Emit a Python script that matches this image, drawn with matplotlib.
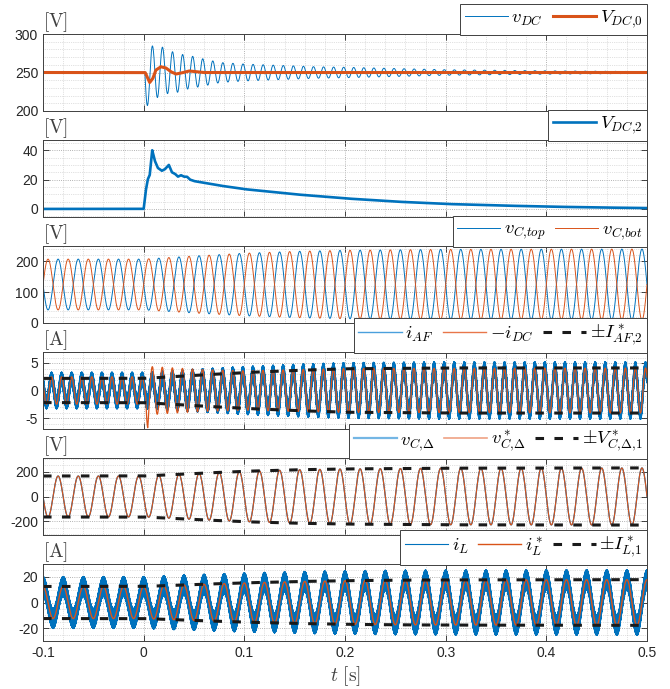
import numpy as np
import matplotlib
matplotlib.use("Agg")
import matplotlib.pyplot as plt
from matplotlib.lines import Line2D
from matplotlib.ticker import MultipleLocator

plt.rcParams["font.family"] = ["Liberation Sans", "DejaVu Sans"]
plt.rcParams["mathtext.fontset"] = "cm"
plt.rcParams["axes.unicode_minus"] = False

blue = "#0072BD"
orange = "#D95319"
dark = "#262626"

# time base and grid frequencies
t = np.linspace(-0.1, 0.5, 60001)
f_line = 50.0
f_dc = 100.0
f_sw = 4700.0

# Panel 1: DC-link voltage
vdc0_t = [-0.1, 0.0015, 0.004, 0.006, 0.009, 0.012, 0.017, 0.022, 0.027, 0.032, 0.038, 0.045, 0.052, 0.06, 0.5]
vdc0_v = [250, 250, 243, 237, 242, 253, 257.5, 256, 251, 248, 249.5, 252, 251, 250, 250]
vdc_osc_t = [0.0012, 0.01, 0.02, 0.04, 0.076, 0.1, 0.17, 0.2, 0.3, 0.4, 0.5]
vdc_osc_a = [43, 36, 30, 23, 13, 11, 7.5, 6.8, 3.6, 2.2, 1.2]

# Panel 2: 2nd harmonic of DC-link voltage
vdc2_t = [-0.1, 0.0, 0.002, 0.004, 0.006, 0.0085, 0.011, 0.014, 0.018, 0.021, 0.025, 0.028,
          0.031, 0.034, 0.037, 0.040, 0.043, 0.046, 0.05, 0.075, 0.1, 0.15, 0.2, 0.25,
          0.3, 0.35, 0.4, 0.45, 0.5]
vdc2_v = [0, 0, 12, 20, 23, 40, 33, 28, 26, 27, 30, 25, 24, 22, 23, 22, 22, 20, 19, 16,
          13.5, 10, 7.2, 5, 3.4, 2.4, 1.6, 1.0, 0.6]

# Panels 3 and 5: capacitor voltages
vc_mean = 125.0
vcd_t = [-0.1, 0.0, 0.05, 0.1, 0.15, 0.2, 0.3, 0.5]
vcd_amp = [165, 165, 185, 203, 215, 222, 228, 230]

# Panel 4: active filter current
iaf_t = [-0.1, 0.0, 0.05, 0.1, 0.15, 0.2, 0.3, 0.5]
iaf_amp = [2.2, 2.2, 2.75, 3.25, 3.65, 3.95, 4.1, 4.1]
iaf_ripple = 1.1
idc_t = [-0.1, 0.0, 0.003, 0.02, 0.06, 0.1, 0.2, 0.5]
idc_amp = [2.5, 2.5, 4.5, 4.2, 3.8, 3.6, 4.0, 4.1]
idc_tr_t = [-0.1, 0.0, 0.002, 0.004, 0.006, 0.009, 0.5]
idc_tr_v = [0, 0, 1.0, -2.5, -0.5, 0, 0]

# Panel 6: grid current
il_t = [-0.1, 0.0, 0.05, 0.1, 0.15, 0.2, 0.25, 0.3, 0.5]
il_amp = [12.5, 12.5, 14, 15.3, 16.3, 17, 17.4, 17.6, 17.8]
il_ripple = 7.8

w50 = 2 * np.pi * f_line
w100 = 2 * np.pi * f_dc
wsw = 2 * np.pi * f_sw

vdc0 = np.interp(t, vdc0_t, vdc0_v)
osc = np.where(t >= vdc_osc_t[0], np.interp(t, vdc_osc_t, vdc_osc_a), 0.0)
vdc = 250 - osc * np.sin(w100 * (t - vdc_osc_t[0])) + (vdc0 - 250) * 0.3
vdc2 = np.interp(t, vdc2_t, vdc2_v)

A = np.interp(t, vcd_t, vcd_amp) / 2
vc_bot = vc_mean + A * np.sin(w50 * t)
vc_top = vc_mean - A * np.sin(w50 * t)
vcd = vc_top - vc_bot
vcd_ref_env = np.interp(t, vcd_t, vcd_amp)

iaf_env = np.interp(t, iaf_t, iaf_amp)
iaf = iaf_env * np.cos(w100 * (t + 0.0915)) + iaf_ripple * np.sin(wsw * t)
idc_neg = np.interp(t, idc_t, idc_amp) * np.cos(w100 * (t + 0.0915)) + np.interp(t, idc_tr_t, idc_tr_v)

il_env = np.interp(t, il_t, il_amp)
il_ref = il_env * np.cos(w50 * t)
il = il_ref + il_ripple * np.sin(wsw * t)

fig = plt.figure(figsize=(6.7, 6.89), dpi=100)

tops = [34, 140, 246, 352, 458, 564]
ylims = [(200, 300), (-5.5, 47), (0, 250), (-7, 7), (-310, 310), (-30, 30)]
yticks = [[200, 250, 300], [0, 20, 40], [0, 100, 200], [-5, 0, 5], [-200, 0, 200], [-20, 0, 20]]
yminor = [10, 5, 20, 1, 50, 5]
units = ["V", "V", "V", "A", "V", "A"]

axes = []
for k in range(6):
    b = 1 - (tops[k] + 77) / 689
    ax = fig.add_axes([43 / 670, b, 604 / 670, 77 / 689])
    ax.set_xlim(-0.1, 0.5)
    ax.set_ylim(*ylims[k])
    ax.set_yticks(yticks[k])
    ax.set_xticks(np.arange(-0.1, 0.51, 0.1))
    ax.xaxis.set_minor_locator(MultipleLocator(0.02))
    ax.yaxis.set_minor_locator(MultipleLocator(yminor[k]))
    ax.grid(which="major", ls=":", color="#9a9a9a", lw=0.6)
    ax.grid(which="minor", ls=":", color="#c4c4c4", lw=0.5)
    ax.tick_params(which="major", direction="in", top=True, right=True, length=4,
                   width=0.6, color=dark, labelcolor=dark, labelsize=10)
    ax.tick_params(which="minor", length=0)
    for s in ax.spines.values():
        s.set_color("#404040")
        s.set_linewidth(0.7)
    ax.text(0.0, 1.005, r"$\mathrm{[%s]}$" % units[k], transform=ax.transAxes,
            ha="left", va="bottom", fontsize=14, color="#404040")
    if k < 5:
        ax.set_xticklabels([])
    else:
        ax.set_xticklabels(["-0.1", "0", "0.1", "0.2", "0.3", "0.4", "0.5"])
    axes.append(ax)

leg_kw = dict(loc="lower right", bbox_to_anchor=(1.0, 0.985), borderaxespad=0,
              fontsize=13.5, frameon=True, fancybox=False, framealpha=1,
              edgecolor="#404040", handlelength=2.3, handletextpad=0.2,
              columnspacing=0.5, borderpad=0.25)
dash = (0, (2.8, 3.4))

ax = axes[0]
ax.plot(t, vdc, color=blue, lw=0.7)
ax.plot(t, vdc0, color=orange, lw=2.2)
ax.legend([Line2D([], [], color=blue, lw=0.7), Line2D([], [], color=orange, lw=2.2)],
          [r"$v_{DC}$", r"$V_{DC{,}0}$"], ncol=2, **leg_kw).get_frame().set_linewidth(0.7)

ax = axes[1]
ax.plot(t, vdc2, color=blue, lw=1.9)
ax.legend([Line2D([], [], color=blue, lw=1.9)], [r"$V_{DC{,}2}$"], **leg_kw).get_frame().set_linewidth(0.7)

ax = axes[2]
ax.plot(t, vc_top, color=blue, lw=0.7)
ax.plot(t, vc_bot, color=orange, lw=0.7)
ax.legend([Line2D([], [], color=blue, lw=0.7), Line2D([], [], color=orange, lw=0.7)],
          [r"$v_{C{,}top}$", r"$v_{C{,}bot}$"], ncol=2, **leg_kw).get_frame().set_linewidth(0.7)

ax = axes[3]
ax.plot(t, iaf, color=blue, lw=1.2)
ax.plot(t, idc_neg, color=orange, lw=0.9)
ax.plot(t, iaf_env, color="#1a1a1a", lw=2.2, ls=dash)
ax.plot(t, -iaf_env, color="#1a1a1a", lw=2.2, ls=dash)
ax.legend([Line2D([], [], color="#4A9FDC", lw=1.0), Line2D([], [], color="#E8764A", lw=1.0),
           Line2D([], [], color="#1a1a1a", lw=2.2, ls=dash)],
          [r"$i_{AF}$", r"$-i_{DC}$", r"$\pm I^*_{AF{,}2}$"], ncol=3, **leg_kw).get_frame().set_linewidth(0.7)

ax = axes[4]
ax.plot(t, vcd, color=blue, lw=0.9)
ax.plot(t, vcd, color=orange, lw=0.8)
ax.plot(t, vcd_ref_env, color="#1a1a1a", lw=2.2, ls=dash)
ax.plot(t, -vcd_ref_env, color="#1a1a1a", lw=2.2, ls=dash)
ax.legend([Line2D([], [], color="#74B6E4", lw=1.6), Line2D([], [], color="#EFA284", lw=1.2),
           Line2D([], [], color="#1a1a1a", lw=2.2, ls=dash)],
          [r"$v_{C{,}\Delta}$", r"$v^*_{C{,}\Delta}$", r"$\pm V^*_{C{,}\Delta{,}1}$"], ncol=3,
          **leg_kw).get_frame().set_linewidth(0.7)

ax = axes[5]
ax.plot(t, il, color=blue, lw=0.9)
ax.plot(t, il_ref, color=orange, lw=1.0)
ax.plot(t, il_env, color="#1a1a1a", lw=2.2, ls=dash)
ax.plot(t, -il_env, color="#1a1a1a", lw=2.2, ls=dash)
ax.legend([Line2D([], [], color=blue, lw=0.8), Line2D([], [], color=orange, lw=1.0),
           Line2D([], [], color="#1a1a1a", lw=2.2, ls=dash)],
          [r"$i_L$", r"$i^*_L$", r"$\pm I^*_{L{,}1}$"], ncol=3, **leg_kw).get_frame().set_linewidth(0.7)
ax.set_xlabel(r"$t\ \mathrm{[s]}$", fontsize=14, color="#404040", labelpad=3)

fig.savefig("out.png", dpi=100)
